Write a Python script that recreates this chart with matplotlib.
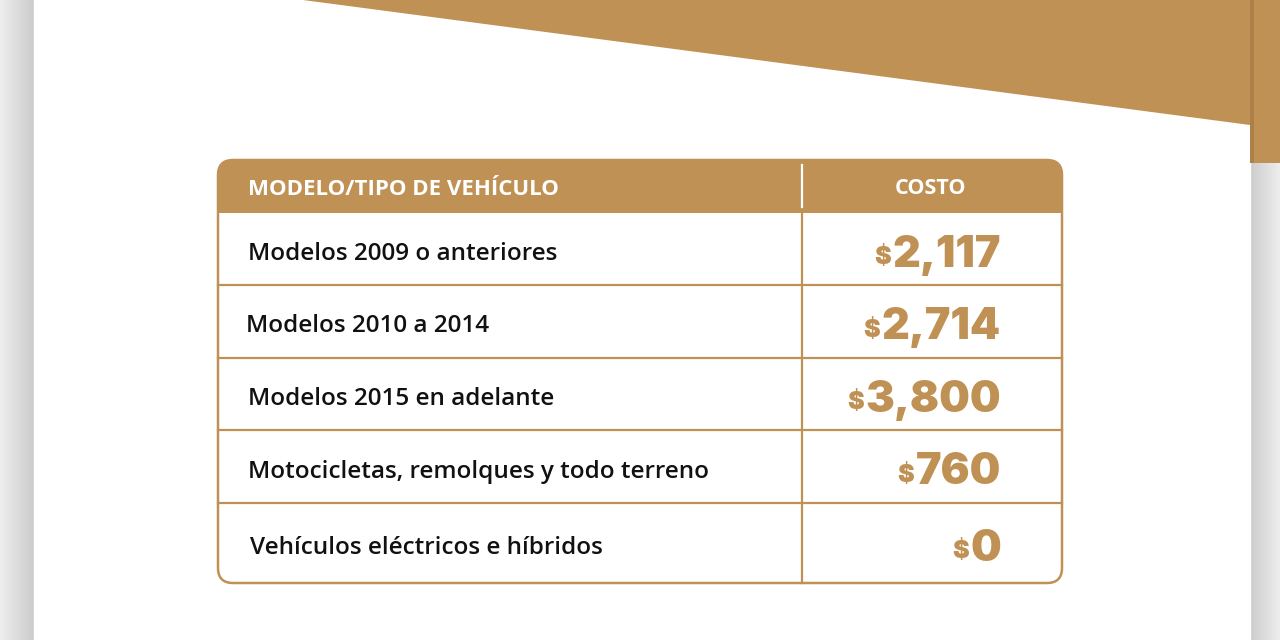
import numpy as np
import matplotlib
matplotlib.use("Agg")
import matplotlib.pyplot as plt
from matplotlib.patches import FancyBboxPatch, Rectangle, Polygon

GOLD = "#c09154"
header_left = "MODELO/TIPO DE VEHÍCULO"
header_right = "COSTO"
labels = [
    "Modelos 2009 o anteriores",
    "Modelos 2010 a 2014",
    "Modelos 2015 en adelante",
    "Motocicletas, remolques y todo terreno",
    "Vehículos eléctricos e híbridos",
]
costs = ["2,117", "2,714", "3,800", "760", "0"]

plt.rcParams["font.family"] = ["Open Sans", "DejaVu Sans"]
NUM_FONT = ["Inter", "Lato", "DejaVu Sans"]

fig = plt.figure(figsize=(12.8, 6.4), dpi=100)
ax = fig.add_axes([0, 0, 1, 1])
ax.set_xlim(0, 1280)
ax.set_ylim(640, 0)
ax.axis("off")

# side strips with soft shadow toward the card
grad = np.linspace(0.93, 0.80, 64)[None, :]
ax.imshow(np.repeat(grad, 2, 0), cmap="gray", vmin=0, vmax=1, extent=(0, 34, 640, 0), aspect="auto", zorder=0)
ax.imshow(np.repeat(grad[:, ::-1], 2, 0), cmap="gray", vmin=0, vmax=1, extent=(1250, 1280, 640, 0), aspect="auto", zorder=0)
ax.add_patch(Rectangle((34, 0), 1216, 640, color="white", zorder=1))

# gold banner at the top
ax.add_patch(Polygon([(303, 0), (1250, 125), (1250, 0)], closed=True, color=GOLD, lw=0, zorder=2))
ax.add_patch(Rectangle((1250, 0), 30, 163, color=GOLD, lw=0, zorder=2))
ax.add_patch(Rectangle((1250, 0), 4, 163, color="#ad8049", lw=0, zorder=2))

# table geometry
x0, x1, xmid = 218, 1062, 802
edges = [160, 213, 285, 358, 430, 503, 583]
label_x = [248, 246, 248, 248, 250]

frame = FancyBboxPatch((x0, edges[0]), x1 - x0, edges[-1] - edges[0],
                       boxstyle="round,pad=0,rounding_size=15",
                       fc="none", ec=GOLD, lw=1.8, zorder=5)
ax.add_patch(frame)
hdr = Rectangle((x0, edges[0]), x1 - x0, edges[1] - edges[0], color=GOLD, lw=0, zorder=3)
ax.add_patch(hdr)
hdr.set_clip_path(frame)

ax.plot([xmid, xmid], [165, 207], color="white", lw=1.6, zorder=4)
ax.plot([xmid, xmid], [edges[1], edges[-1]], color=GOLD, lw=1.6, zorder=4)
for y in edges[2:-1]:
    ax.plot([x0, x1], [y, y], color=GOLD, lw=1.6, zorder=4)

ymid_h = (edges[0] + edges[1]) / 2
ax.text(248, ymid_h + 3, header_left, color="white", fontsize=16, fontweight="bold",
        ha="left", va="center", zorder=6)
ax.text(930, ymid_h + 2, header_right, color="white", fontsize=15.5, fontweight="bold",
        ha="center", va="center", zorder=6)

for i, (lab, cost) in enumerate(zip(labels, costs)):
    yc = (edges[i + 1] + edges[i + 2]) / 2
    ax.text(label_x[i], yc + 2, lab, color="#111111", fontsize=17.5, fontweight="semibold",
            ha="left", va="center_baseline", zorder=6)
    num = ax.text(1001, yc + 2, cost, color=GOLD, fontsize=31, fontweight="black",
                  family=NUM_FONT, ha="right", va="center_baseline", zorder=6)
    ax.annotate("$", xy=(0, 0.45), xycoords=num, xytext=(-1, 0), textcoords="offset points",
                color=GOLD, fontsize=18, fontweight="black", family=NUM_FONT,
                ha="right", va="center", zorder=6)

fig.savefig("out.png", dpi=100)
